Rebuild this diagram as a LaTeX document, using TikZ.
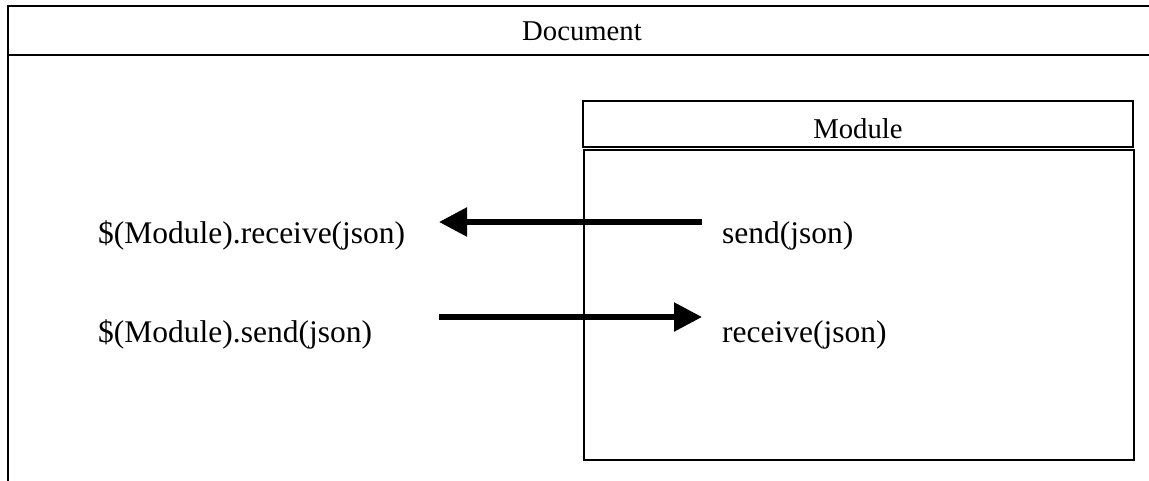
\documentclass[tikz,border=0pt]{standalone}
\usepackage{fontspec}
\setmainfont{Liberation Serif}
\usetikzlibrary{arrows.meta}
\tikzset{
  frame/.style={draw=black, line width=2pt},
  boxline/.style={draw=black, line width=2.6pt},
  headtext/.style={inner sep=0pt, anchor=base, font=\fontsize{28.7}{34}\selectfont},
  calltext/.style={inner sep=0pt, anchor=base west, font=\fontsize{31.5}{37}\selectfont},
  msg/.style={line width=5.5pt, -{Triangle[length=28pt,width=28pt]}},
}
\begin{document}
\begin{tikzpicture}[x=1pt, y=-1pt]
\useasboundingbox (0,0) rectangle (1149,480);
\begin{scope}
  \clip (0,0) rectangle (1149,480);
  % outer document frame and its title bar
  \draw[frame] (7.5,5.5) rectangle (1157,495);
  \draw[frame] (7.5,55) -- (1157,55);
\end{scope}
\node[headtext] (doc) at (582,40) {Document};

% module header and body
\draw[boxline] (583,101) rectangle (1133,147);
\node[headtext] (mod) at (858,138) {Module};
\draw[boxline] (584,150) rectangle (1134,460);

% call labels
\node[calltext] (extrecv) at (98,243) {\$(Module).receive(json)};
\node[calltext] (extsend) at (98,342) {\$(Module).send(json)};
\node[calltext] (intsend) at (722,243) {send(json)};
\node[calltext] (intrecv) at (722,342) {receive(json)};

% message ports
\coordinate (sendout) at (702,222);
\coordinate (recvin)  at (439,222);
\coordinate (sendin)  at (439,317);
\coordinate (recvout) at (702,317);

\draw[msg] (sendout) -- (recvin);
\draw[msg] (sendin) -- (recvout);
\end{tikzpicture}
\end{document}
